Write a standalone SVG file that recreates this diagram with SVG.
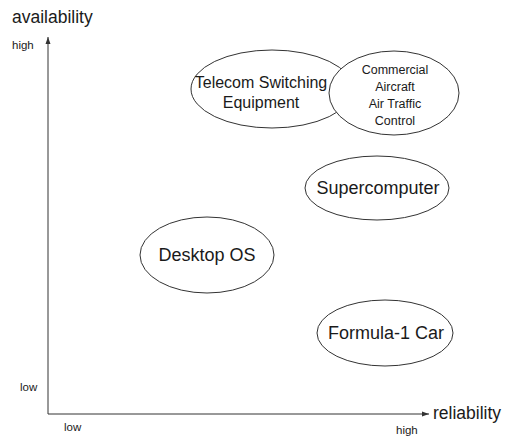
<svg xmlns="http://www.w3.org/2000/svg" width="507" height="436" viewBox="0 0 507 436">
<style>
text{font-family:"Liberation Sans",Arial,sans-serif;fill:#1a1a1a}
.n ellipse{fill:#fff;stroke:#333;stroke-width:1}
.big{font-size:18px}
.ax{font-size:17.5px}
.mid{font-size:16px}
.sm{font-size:12.5px}
.tick{font-size:11.5px}
.axis{stroke:#333;stroke-width:1;fill:none}
</style>
<defs>
<marker id="ah" markerWidth="8" markerHeight="6" refX="7" refY="3" orient="auto" markerUnits="userSpaceOnUse">
<path d="M0,0.5 L7,3 L0,5.5 Z" fill="#333"/>
</marker>
</defs>
<g id="connectors">
<line class="axis" x1="48" y1="414" x2="48" y2="37" marker-end="url(#ah)"/>
<line class="axis" x1="48" y1="414" x2="429" y2="414" marker-end="url(#ah)"/>
</g>
<g id="labels">
<text class="ax" x="12" y="23">availability</text>
<text class="ax" x="433" y="419">reliability</text>
<text class="tick" x="12" y="49">high</text>
<text class="tick" x="20" y="391">low</text>
<text class="tick" x="64" y="431">low</text>
<text class="tick" x="396" y="434">high</text>
</g>
<g id="telecom" class="n">
<ellipse cx="272" cy="89" rx="81" ry="39"/>
<text class="mid" x="261" y="88" text-anchor="middle">Telecom Switching</text>
<text class="mid" x="261" y="108" text-anchor="middle">Equipment</text>
</g>
<g id="commercial" class="n">
<ellipse cx="394" cy="93" rx="65" ry="42"/>
<text class="sm" x="395" y="74" text-anchor="middle">Commercial</text>
<text class="sm" x="395" y="91" text-anchor="middle">Aircraft</text>
<text class="sm" x="395" y="108" text-anchor="middle">Air Traffic</text>
<text class="sm" x="395" y="125" text-anchor="middle">Control</text>
</g>
<g id="supercomputer" class="n">
<ellipse cx="377" cy="188" rx="72" ry="32"/>
<text class="big" x="378" y="194" text-anchor="middle">Supercomputer</text>
</g>
<g id="desktop" class="n">
<ellipse cx="207" cy="255" rx="67" ry="38"/>
<text class="big" x="207" y="261" text-anchor="middle">Desktop OS</text>
</g>
<g id="formula" class="n">
<ellipse cx="385" cy="333" rx="68" ry="33"/>
<text class="big" x="386" y="339" text-anchor="middle">Formula-1 Car</text>
</g>
</svg>
